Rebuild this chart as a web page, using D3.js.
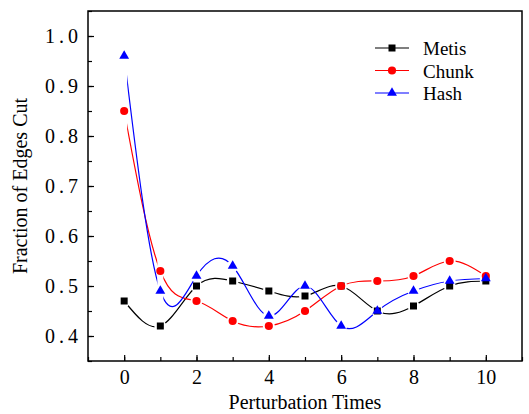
<!doctype html>
<html>
<head>
	<title>Fraction of Edges Cut</title>
	<script src="https://d3js.org/d3.v7.min.js"></script>
	<style>
	body { margin: 0; background: #fff; }
	</style>
</head>
<body>
	<script>

	// data
	var times = [0, 1, 2, 3, 4, 5, 6, 7, 8, 9, 10];
	var metis = [0.47, 0.42, 0.50, 0.51, 0.49, 0.48, 0.50, 0.45, 0.46, 0.50, 0.51];
	var chunk = [0.85, 0.53, 0.47, 0.43, 0.42, 0.45, 0.50, 0.51, 0.52, 0.55, 0.52];
	var hash  = [0.96, 0.49, 0.52, 0.54, 0.44, 0.50, 0.42, 0.45, 0.49, 0.51, 0.515];
	var xTicks = [0, 2, 4, 6, 8, 10];
	var yTicks = [0.4, 0.5, 0.6, 0.7, 0.8, 0.9, 1.0];

	var series = [
		{name: "Metis", values: metis, color: "#000000", symbol: d3.symbolSquare, size: 49},
		{name: "Chunk", values: chunk, color: "#ff0000", symbol: d3.symbolCircle, size: 52},
		{name: "Hash",  values: hash,  color: "#0000ff", symbol: d3.symbolTriangle, size: 42}
	];

	var FONT = "'Liberation Serif', 'Times New Roman', Times, 'DejaVu Serif', serif";

	var margin = {top: 11, right: 7, bottom: 53, left: 88};
	var width = 529, height = 414;
	var w = width - margin.left - margin.right;
	var h = height - margin.top - margin.bottom;

	var svg = d3.select("body").append("svg")
		.attr("width", width)
		.attr("height", height)
		.attr("font-family", FONT);

	var g = svg.append("g")
		.attr("transform", "translate(" + margin.left + "," + margin.top + ")");

	var xScale = d3.scaleLinear().domain([-1, 11]).range([0, w]);
	var yScale = d3.scaleLinear().domain([0.35, 1.05]).range([h, 0]);

	// minor ticks first, then major ticks with labels (ticks point inward)
	g.append("g")
		.attr("transform", "translate(0," + h + ")")
		.call(d3.axisTop(xScale).tickValues(d3.range(-1, 12, 1)).tickSize(4).tickFormat(""))
		.call(function(a) { a.select(".domain").remove(); });
	g.append("g")
		.call(d3.axisRight(yScale).tickValues(d3.range(0.35, 1.051, 0.05)).tickSize(4).tickFormat(""))
		.call(function(a) { a.select(".domain").remove(); });

	var xAxis = g.append("g")
		.attr("transform", "translate(0," + h + ")")
		.call(d3.axisBottom(xScale).tickValues(xTicks).tickSizeInner(-6).tickSizeOuter(0).tickPadding(9));
	xAxis.select(".domain").remove();
	xAxis.attr("font-family", FONT).attr("font-size", 20);

	var yAxis = g.append("g")
		.call(d3.axisLeft(yScale).tickValues(yTicks).tickSizeInner(-6).tickSizeOuter(0)
			.tickPadding(6).tickFormat(d3.format(".1f")));
	yAxis.select(".domain").remove();
	yAxis.attr("font-family", FONT).attr("font-size", 20);
	yAxis.selectAll("text").attr("letter-spacing", "4px");
	g.selectAll(".tick line").attr("stroke", "#000").attr("stroke-width", 1.2);

	// frame
	g.append("rect")
		.attr("width", w).attr("height", h)
		.attr("fill", "none").attr("stroke", "#000").attr("stroke-width", 1.5);

	// axis titles
	svg.append("text")
		.attr("x", margin.left + w / 2).attr("y", 409)
		.attr("text-anchor", "middle")
		.attr("font-size", 20)
		.text("Perturbation Times");

	svg.append("text")
		.attr("transform", "translate(27," + (margin.top + h / 2) + ") rotate(-90)")
		.attr("text-anchor", "middle")
		.attr("font-size", 20)
		.text("Fraction of Edges Cut");

	// spline lines with a gap around each symbol
	var line = d3.line()
		.x(function(d, i) { return xScale(times[i]); })
		.y(function(d) { return yScale(d); })
		.curve(d3.curveNatural);

	var defs = svg.append("defs");

	series.forEach(function(s, k) {
		var mask = defs.append("mask")
			.attr("id", "gap" + k)
			.attr("maskUnits", "userSpaceOnUse")
			.attr("x", 0).attr("y", 0).attr("width", w).attr("height", h);
		for (var i = 0; i < times.length - 1; i++) {
			mask.append("rect")
				.attr("x", xScale(times[i]) + 3)
				.attr("width", xScale(times[i + 1]) - xScale(times[i]) - 6)
				.attr("y", 0).attr("height", h)
				.attr("fill", "#fff");
		}
		mask.selectAll("circle").data(s.values).enter().append("circle")
			.attr("cx", function(d, i) { return xScale(times[i]); })
			.attr("cy", function(d) { return yScale(d); })
			.attr("r", 6)
			.attr("fill", "#000");

		g.append("path")
			.attr("d", line(s.values))
			.attr("fill", "none")
			.attr("stroke", s.color)
			.attr("stroke-width", 1.2)
			.attr("mask", "url(#gap" + k + ")");
	});

	series.forEach(function(s) {
		var sym = d3.symbol().type(s.symbol).size(s.size);
		g.selectAll(null).data(s.values).enter().append("path")
			.attr("d", sym)
			.attr("transform", function(d, i) {
				return "translate(" + xScale(times[i]) + "," + yScale(d) + ")";
			})
			.attr("fill", s.color);
	});

	// legend
	var legend = svg.append("g").attr("transform", "translate(375,48)");
	series.forEach(function(s, i) {
		var row = legend.append("g").attr("transform", "translate(0," + (i * 22.5) + ")");
		row.append("line")
			.attr("x1", 0).attr("x2", 34)
			.attr("stroke", s.color).attr("stroke-width", 1.2);
		row.append("path")
			.attr("d", d3.symbol().type(s.symbol).size(s.size))
			.attr("transform", "translate(17,0)")
			.attr("fill", s.color);
		row.append("text")
			.attr("x", 48).attr("y", 7)
			.attr("font-size", 19)
			.text(s.name);
	});

	</script>
</body>
</html>
